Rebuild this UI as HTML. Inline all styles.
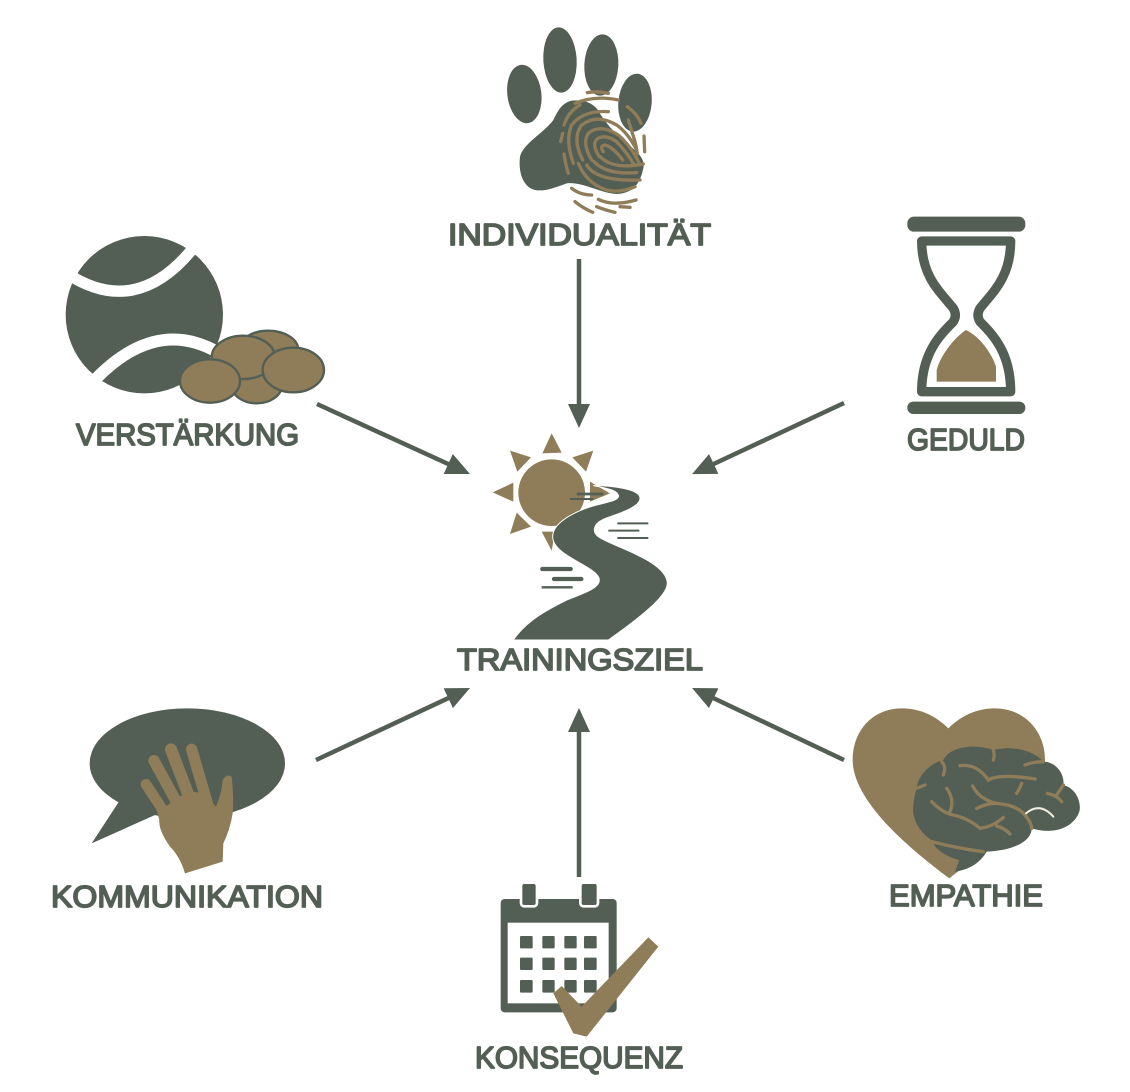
<!DOCTYPE html>
<html><head><meta charset="utf-8"><title>Trainingsziel</title>
<style>
html,body{margin:0;padding:0;background:#fff}
svg{display:block}
text{font-family:"Liberation Sans",sans-serif;font-size:31px;fill:#535f55;stroke:#535f55;stroke-width:1.7;stroke-linejoin:round}
</style></head><body>
<svg width="1130" height="1092" viewBox="0 0 1130 1092" xmlns="http://www.w3.org/2000/svg">
<defs><marker id="a" markerUnits="userSpaceOnUse" markerWidth="24" markerHeight="24" refX="12" refY="12" orient="auto"><path d="M0 1L24 12L0 23Z" fill="#535f55"/></marker></defs>
<rect width="1130" height="1092" fill="#fff"/>

<!-- arrows -->
<g stroke="#535f55" stroke-width="4.5" fill="none">
<line x1="579" y1="259" x2="579" y2="416" marker-end="url(#a)"/>
<line x1="579" y1="877" x2="579" y2="720" marker-end="url(#a)"/>
<line x1="317" y1="404" x2="459.1" y2="469" marker-end="url(#a)"/>
<line x1="844" y1="403" x2="702.9" y2="469" marker-end="url(#a)"/>
<line x1="316" y1="760" x2="459.1" y2="693.1" marker-end="url(#a)"/>
<line x1="844" y1="760" x2="702.9" y2="693.1" marker-end="url(#a)"/>
</g>

<!-- paw -->
<g transform="translate(440,10) scale(.33333)">
<g fill="#535f55">
<ellipse cx="253" cy="252" rx="51" ry="88" transform="rotate(-7 253 252)"/>
<ellipse cx="360" cy="150" rx="50" ry="98" transform="rotate(-3 360 150)"/>
<ellipse cx="484" cy="165" rx="51" ry="92" transform="rotate(3 484 165)"/>
<ellipse cx="585" cy="278" rx="50" ry="87" transform="rotate(5 585 278)"/>
<path d="M395 272C435 268 455 280 470 295C500 345 530 375 560 400C600 430 615 450 610 475C600 520 580 550 530 552C480 550 430 515 380 520C340 535 310 545 285 540C245 530 235 480 240 440C250 400 310 370 340 330C355 300 365 280 395 272Z"/>
</g>
<g fill="none" stroke="#8f7c58" stroke-width="10" stroke-linecap="round">
<path d="M490 425Q478 408 495 405Q520 412 548 450"/>
<path d="M478 440Q455 405 470 388Q495 370 530 395Q555 420 580 460"/>
<path d="M455 450Q425 400 445 370Q480 340 535 375Q575 410 600 465"/>
<path d="M428 450Q395 385 425 345Q470 310 530 345Q565 370 590 420"/>
<path d="M400 460Q375 390 395 345Q430 300 505 305"/>
<path d="M565 330L585 395Q588 405 592 432"/>
<path d="M612 378L614 425"/>
<path d="M368 370L362 395M372 345Q385 305 420 285"/>
<path d="M442 248Q470 242 505 250M405 280Q465 255 535 270"/>
<path d="M562 290Q590 310 603 340"/>
<path d="M372 432Q378 470 385 490M480 440Q520 480 610 462"/>
<path d="M462 455Q500 495 590 488"/>
<path d="M440 465Q470 515 600 510"/>
<path d="M415 460Q440 520 500 540Q540 550 585 530"/>
<path d="M395 535Q420 555 455 555"/>
<path d="M405 575Q430 595 458 607"/>
<path d="M475 568Q520 590 588 570"/>
<path d="M470 590Q495 600 525 607M540 590L570 592"/>
</g>
</g>

<!-- road -->
<g transform="translate(450,420) scale(.33333)">
<g fill="#8f7c58">
<circle cx="305" cy="218" r="100"/>
<path d="M305 40L277 100L335 98Z"/>
<path d="M430 92L367 112L408 155Z"/>
<path d="M420 185L480 220L420 245Z"/>
<path d="M275 335L315 335L305 392Z"/>
<path d="M200 278L243 320L180 342Z"/>
<path d="M128 217L190 188L190 245Z"/>
<path d="M180 92L243 112L202 155Z"/>
</g>
<path d="M430 197C480 197 570 205 570 235C570 265 490 285 460 298C430 312 425 335 445 350C480 378 650 420 652 490C652 530 560 600 475 660L190 660C230 600 300 565 350 540C400 520 448 505 448 480C448 440 308 410 308 350C308 300 400 265 440 255C480 245 510 240 505 225C500 210 470 205 430 197Z" fill="#535f55" stroke="#fff" stroke-width="3"/>
<g stroke="#535f55" fill="none">
<path d="M380 222H460" stroke-width="8"/>
<path d="M360 237H430" stroke-width="6"/>
<path d="M502 310H595M475 332H568M502 354H595" stroke-width="6"/>
<path d="M277 447H362M312 477H394" stroke-width="13" stroke-linecap="round"/>
<path d="M275 502H368" stroke-width="7"/>
</g>
</g>

<!-- ball -->
<g transform="translate(60,230) scale(.33333)">
<circle cx="253" cy="254" r="236" fill="#535f55"/>
<path d="M20 130Q225 265 395 60" stroke="#fff" stroke-width="34" fill="none"/>
<path d="M90 465Q278 258 470 365" stroke="#fff" stroke-width="36" fill="none"/>
<g fill="#8f7c58" stroke="#535f55" stroke-width="7">
<ellipse cx="625" cy="360" rx="90" ry="58"/>
<ellipse cx="590" cy="465" rx="76" ry="55"/>
<ellipse cx="550" cy="382" rx="95" ry="65"/>
<ellipse cx="450" cy="453" rx="90" ry="65"/>
<ellipse cx="700" cy="420" rx="92" ry="67"/>
</g>
</g>

<!-- hourglass -->
<g transform="translate(890,210) scale(.33333)">
<rect x="52" y="20" width="354" height="45" rx="20" fill="#535f55"/>
<rect x="52" y="575" width="354" height="37" rx="18" fill="#535f55"/>
<path d="M95 93H362C362 200 310 245 270 295Q258 316 270 335C310 375 362 430 362 545H95C95 430 150 375 190 335Q202 316 190 295C150 245 95 200 95 93Z" fill="none" stroke="#535f55" stroke-width="28" stroke-linejoin="round"/>
<path d="M228 360C270 380 305 430 318 470V515H140V480C150 440 190 385 228 360Z" fill="#8f7c58"/>
</g>

<!-- speech bubble -->
<g transform="translate(40,700) scale(.33333)">
<ellipse cx="442" cy="190" rx="293" ry="165" fill="#535f55"/>
<path d="M240 300L155 430L345 345Z" fill="#535f55"/>
<g stroke="#8f7c58" stroke-linecap="round" fill="none">
<path d="M318 253L385 355" stroke-width="32"/>
<path d="M342 182L420 325" stroke-width="34"/>
<path d="M393 148L455 310" stroke-width="36"/>
<path d="M455 148L505 320" stroke-width="34"/>
</g>
<path d="M358 360L350 330L380 318L415 290L458 275L490 280L528 320Q545 280 548 240Q560 220 575 230Q582 300 578 340Q570 390 550 430L548 485L435 520Q420 470 390 440Q355 390 358 360Z" fill="#8f7c58"/>
</g>

<!-- calendar -->
<g transform="translate(470,880) scale(.33333)">
<rect x="92" y="57" width="348" height="340" rx="12" fill="#535f55"/>
<rect x="113" y="128" width="303" height="242" fill="#fff"/>
<g fill="#535f55" stroke="#fff" stroke-width="8">
<rect x="153" y="8" width="48" height="71" rx="10"/>
<rect x="331" y="8" width="53" height="71" rx="10"/>
</g>
<g fill="#535f55">
<rect x="150" y="168" width="38" height="37" rx="3"/><rect x="217" y="168" width="37" height="37" rx="3"/><rect x="283" y="168" width="37" height="37" rx="3"/><rect x="342" y="168" width="38" height="37" rx="3"/>
<rect x="150" y="233" width="38" height="37" rx="3"/><rect x="217" y="233" width="37" height="37" rx="3"/><rect x="283" y="233" width="37" height="37" rx="3"/><rect x="342" y="233" width="38" height="37" rx="3"/>
<rect x="150" y="300" width="38" height="38" rx="3"/><rect x="217" y="300" width="37" height="38" rx="3"/><rect x="283" y="300" width="37" height="38" rx="3"/><rect x="342" y="300" width="38" height="38" rx="3"/>
</g>
<path d="M250 340L275 318L335 380L535 172L565 200L350 470L310 460Z" fill="#8f7c58"/>
</g>

<!-- heart and brain -->
<g transform="translate(840,700) scale(.33333)">
<path d="M325 85C280 40 230 25 185 25C100 25 38 90 38 180C38 300 200 440 328 535C450 440 615 300 615 180C615 90 550 25 465 25C420 25 370 40 325 85Z" fill="#8f7c58"/>
<path d="M230 265C235 225 270 190 310 180C330 140 400 130 462 150C510 135 580 150 610 185C650 185 675 225 670 255C710 265 725 310 718 335C700 385 640 405 575 385C575 420 530 450 440 455C420 490 385 510 345 515L358 480C320 470 285 450 275 420C235 395 215 350 220 320C222 295 225 280 230 265Z" fill="#535f55"/>
<g fill="none" stroke="#8f7c58" stroke-width="10" stroke-linecap="round">
<path d="M275 305Q310 340 340 345Q385 355 420 385Q460 380 490 352M470 378Q495 385 510 402"/>
<path d="M320 265Q345 300 330 335"/>
<path d="M230 265L255 255"/>
<path d="M275 425Q350 445 430 455"/>
<path d="M305 185Q320 200 310 225"/>
<path d="M360 197Q410 190 445 240Q480 220 585 237"/>
<path d="M545 250Q540 265 530 280"/>
<path d="M398 258Q420 300 470 310Q440 310 410 325M470 310Q530 315 555 345Q575 370 575 385"/>
<path d="M460 150Q465 165 460 180"/>
<path d="M610 185Q580 185 555 195"/>
<path d="M622 280Q650 285 665 305M670 255L650 285"/>
</g>
<path d="M558 340Q600 305 640 350" fill="none" stroke="#f3eee2" stroke-width="6" stroke-linecap="round"/>
</g>

<!-- labels -->
<text x="448" y="245" textLength="263" lengthAdjust="spacingAndGlyphs">INDIVIDUALITÄT</text>
<text x="457" y="670" textLength="246" lengthAdjust="spacingAndGlyphs">TRAININGSZIEL</text>
<text x="76" y="445" textLength="223" lengthAdjust="spacingAndGlyphs">VERSTÄRKUNG</text>
<text x="907" y="450" textLength="118" lengthAdjust="spacingAndGlyphs">GEDULD</text>
<text x="51" y="907" textLength="272" lengthAdjust="spacingAndGlyphs">KOMMUNIKATION</text>
<text x="889" y="906" textLength="154" lengthAdjust="spacingAndGlyphs">EMPATHIE</text>
<text x="475" y="1068" textLength="208" lengthAdjust="spacingAndGlyphs">KONSEQUENZ</text>
</svg>
</body></html>
